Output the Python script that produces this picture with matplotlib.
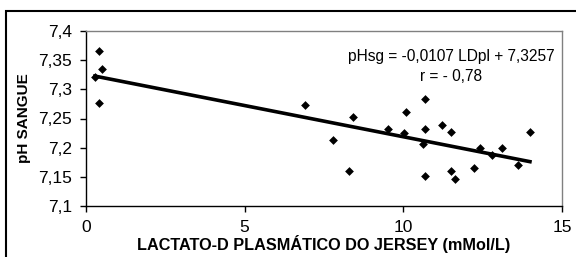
import matplotlib
matplotlib.use("Agg")
import matplotlib.pyplot as plt
from matplotlib.patches import Rectangle
import numpy as np

plt.rcParams['font.family'] = ['Liberation Sans', 'DejaVu Sans']

lactato = [0.42, 0.51, 0.28, 0.42, 6.91, 7.78, 8.30, 8.40, 9.51, 10.02, 10.09,
           10.61, 10.69, 10.69, 10.69, 11.22, 11.49, 11.49, 11.63, 12.23, 12.41,
           12.78, 13.10, 13.61, 13.99]
ph = [7.365, 7.335, 7.322, 7.277, 7.273, 7.213, 7.160, 7.252, 7.232, 7.225, 7.262,
      7.207, 7.284, 7.232, 7.151, 7.239, 7.227, 7.160, 7.146, 7.165, 7.199,
      7.187, 7.199, 7.170, 7.227]
slope = -0.0107
intercept = 7.3257
xticks = [0, 5, 10, 15]
yticks = [7.1, 7.15, 7.2, 7.25, 7.3, 7.35, 7.4]
ytick_labels = ["7,1", "7,15", "7,2", "7,25", "7,3", "7,35", "7,4"]
xtick_labels = ["0", "5", "10", "15"]

W, H = 576, 257
fig = plt.figure(figsize=(W/100, H/100), dpi=100)
ax = fig.add_axes([86/W, 1-206/H, (562-86)/W, (206-31)/H])

ax.scatter(lactato, ph, marker='D', s=20, color='black', zorder=3, linewidths=0)
xl = np.array([min(lactato), max(lactato)])
ax.plot(xl, slope*xl + intercept, color='black', lw=2.6, zorder=2)

ax.set_xlim(0, 15)
ax.set_ylim(7.1, 7.4)
ax.set_xticks(xticks)
ax.set_xticklabels(xtick_labels)
ax.set_yticks(yticks)
ax.set_yticklabels(ytick_labels)
ax.tick_params(axis='both', direction='out', length=4, width=1, labelsize=12.5, colors='black', pad=6)
ax.tick_params(axis='x', pad=6)
for s in ['left', 'bottom']:
    ax.spines[s].set_color('black')
    ax.spines[s].set_linewidth(1)
for s in ['top', 'right']:
    ax.spines[s].set_color('#808080')
    ax.spines[s].set_linewidth(1)

ax.set_xlabel("LACTATO-D PLASMÁTICO DO JERSEY (mMol/L)", fontsize=11.7, fontweight='bold', labelpad=0)
ax.set_ylabel("pH SANGUE", fontsize=11, fontweight='bold', labelpad=5)

ax.text(0.985, 0.795, "pHsg = -0,0107 LDpl + 7,3257\nr = - 0,78", transform=ax.transAxes,
        ha='right', va='center', multialignment='center', fontsize=11.2, linespacing=1.4)

fig.patches.append(Rectangle((6/W, -0.1), 1.2, 1 - 11/H + 0.1, transform=fig.transFigure,
                             fill=False, edgecolor='black', lw=1.5))

fig.savefig("out.png", dpi=100)
